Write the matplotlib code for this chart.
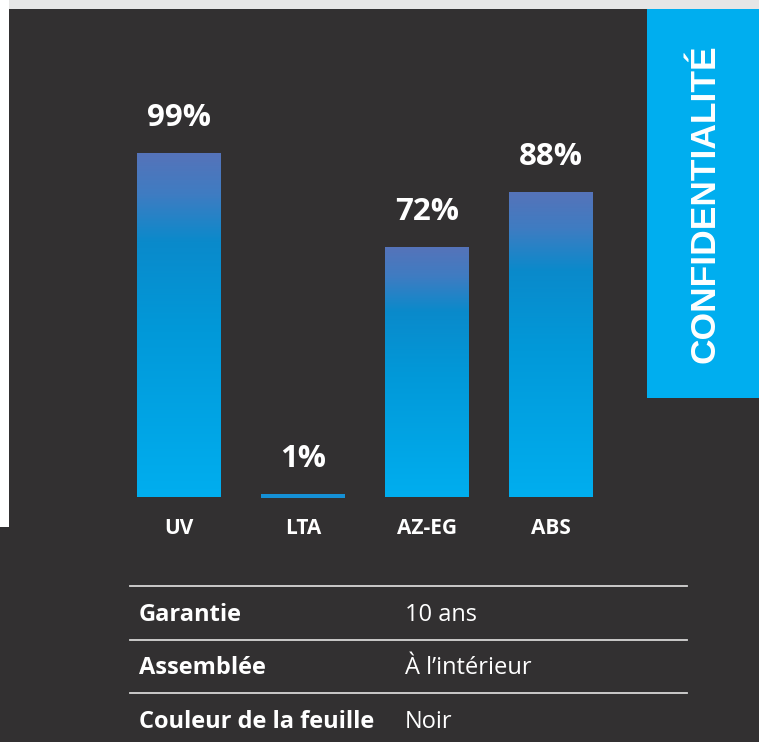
import matplotlib
matplotlib.use("Agg")
import matplotlib.pyplot as plt
import numpy as np
from matplotlib.colors import LinearSegmentedColormap
from matplotlib.patches import Rectangle
from matplotlib.lines import Line2D

categories = ["UV", "LTA", "AZ-EG", "ABS"]
values = [99, 1, 72, 88]
value_labels = ["99%", "1%", "72%", "88%"]
table_keys = ["Garantie", "Assemblée", "Couleur de la feuille"]
table_vals = ["10 ans", "À l’intérieur", "Noir"]
side_title = "CONFIDENTIALITÉ"

W, H = 759, 742
BG = "#323031"
BLUE = "#00aeef"

fig = plt.figure(figsize=(W / 100, H / 100), dpi=100, facecolor=BG)

def fx(x):
    return x / W

def fy(y):
    return 1 - y / H

# top light strip and left white strip
fig.patches.append(Rectangle((0, fy(9)), 1, 9 / H, transform=fig.transFigure,
                             facecolor="#e6e6e6", edgecolor="none", zorder=0))
fig.patches.append(Rectangle((0, fy(527)), fx(9), 527 / H, transform=fig.transFigure,
                             facecolor="#ffffff", edgecolor="none", zorder=0))
# blue side box
fig.patches.append(Rectangle((fx(647), fy(398)), fx(W - 647), (398 - 9) / H,
                             transform=fig.transFigure, facecolor=BLUE,
                             edgecolor="none", zorder=0))
fig.text(fx(705), fy(204), side_title, rotation=90, ha="center", va="center",
         color="white", fontsize=25.5, fontweight="bold",
         family="Liberation Sans")

# bar axes
left_px, right_px = 117, 613
top_px, bot_px = 150, 497.5
ax = fig.add_axes([fx(left_px), fy(bot_px), (right_px - left_px) / W,
                   (bot_px - top_px) / H])
ax.set_facecolor("none")
ax.set_xlim(-0.5, 3.5)
ax.set_ylim(0, 100)
ax.axis("off")

cmap = LinearSegmentedColormap.from_list(
    "grad", [(0.0, "#5673b9"), (0.12, "#3f7cc2"), (0.26, "#0a8acb"),
             (0.5, "#0298d8"), (1.0, "#00aeef")])
grad = np.linspace(0, 1, 256).reshape(-1, 1)

x = np.arange(len(categories))
bars = ax.bar(x, values, width=0.677, color="none", edgecolor="none")
for b, v in zip(bars, values):
    x0, w = b.get_x(), b.get_width()
    if v < 3:
        b.set_facecolor("#1590d6")
        continue
    im = ax.imshow(grad, cmap=cmap, aspect="auto", extent=(x0, x0 + w, 0, v),
                   interpolation="bilinear", zorder=2)
    im.set_clip_path(b)

for xi, v, lab in zip(x, values, value_labels):
    ax.annotate(lab, (xi, v), xytext=(0, 19.5), textcoords="offset points",
                ha="center", va="baseline", color="white", fontsize=22.5,
                fontweight="bold", family="Open Sans", annotation_clip=False)

for xi, c in zip(x, categories):
    ax.annotate(c, (xi, 0), xytext=(0, -26.3), textcoords="offset points",
                ha="center", va="baseline", color="white", fontsize=15,
                fontweight="bold", family="Open Sans", annotation_clip=False)

# table
line_ys = [586, 639.5, 692.5]
for ly in line_ys:
    fig.add_artist(Line2D([fx(130), fx(687)], [fy(ly), fy(ly)],
                          transform=fig.transFigure, color="#d6d6d6", lw=1.3))
base_ys = [621, 674.5, 728]
for k, v, by in zip(table_keys, table_vals, base_ys):
    fig.text(fx(139), fy(by), k, ha="left", va="baseline", color="white",
             fontsize=17, fontweight="bold", family="Open Sans")
    fig.text(fx(405), fy(by), v, ha="left", va="baseline", color="white",
             fontsize=17, family="Open Sans")

fig.savefig("out.png", dpi=100, facecolor=BG)
